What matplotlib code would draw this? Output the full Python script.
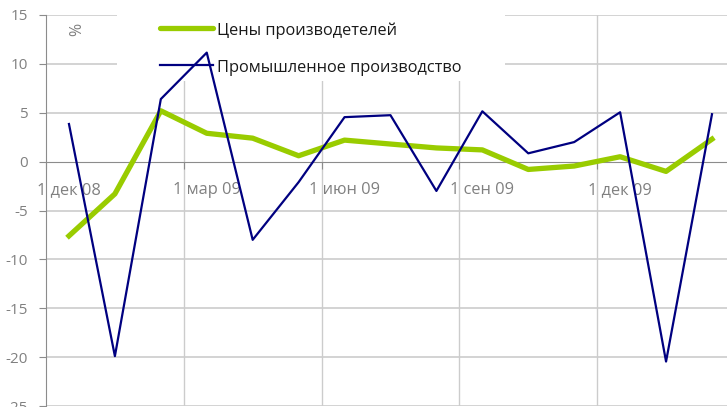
import matplotlib
matplotlib.use("Agg")
import matplotlib.pyplot as plt
from matplotlib.patches import Rectangle

plt.rcParams['font.family'] = ['Open Sans', 'DejaVu Sans']

months = ["дек 08", "янв 09", "фев 09", "мар 09", "апр 09", "май 09", "июн 09", "июл 09",
          "авг 09", "сен 09", "окт 09", "ноя 09", "дек 09", "янв 10", "фев 10"]
producer_prices = [-7.6, -3.3, 5.2, 2.9, 2.4, 0.6, 2.2, 1.8, 1.4, 1.2, -0.8, -0.45, 0.5, -1.0, 2.3]
industrial_prod = [3.85, -19.9, 6.4, 11.15, -8.0, -2.1, 4.55, 4.75, -3.0, 5.15, 0.85, 2.0, 5.05, -20.45, 4.85]
tick_labels = ["1 дек 08", "1 мар 09", "1 июн 09", "1 сен 09", "1 дек 09"]
label_idx = [0, 3, 6, 9, 12]
legend_labels = ["Цены производетелей", "Промышленное производство"]
y_ticks = [-25, -20, -15, -10, -5, 0, 5, 10, 15]

green = "#99cc00"
navy = "#000080"
grid_c = "#cccccc"
txt_c = "#808080"

fig = plt.figure(figsize=(7.27, 4.07), dpi=100)
ax = fig.add_axes([46/727, 1/407, 681/727, 391/407])
x = list(range(len(months)))

ax.set_xlim(-0.5, -0.5 + 681/45.93)
ax.set_ylim(-25, 15)

# horizontal gridlines
for v in y_ticks:
    if v != 0:
        ax.axhline(v, color=grid_c, lw=1.2, zorder=0.5)
# vertical gridlines at category boundaries
for b in [2.5, 5.5, 8.5, 11.5, 14.5]:
    ax.axvline(b, color=grid_c, lw=1.0, zorder=0.5)

# legend background covering grid
ax.add_patch(Rectangle((0.104, 0.831), 0.57, 0.25, transform=ax.transAxes,
                       facecolor="white", edgecolor="none", zorder=1, clip_on=False))

ax.plot(x, producer_prices, color=green, lw=3.8, zorder=3, solid_joinstyle='round')
ax.plot(x, industrial_prod, color=navy, lw=1.6, zorder=4)

# spines
for s in ["top", "right"]:
    ax.spines[s].set_visible(False)
ax.spines["left"].set_color("#8c8c8c")
ax.spines["bottom"].set_position(("data", 0))
ax.spines["bottom"].set_color("#8c8c8c")
ax.spines["bottom"].set_zorder(2)

ax.set_yticks(y_ticks)
ax.set_yticklabels([str(v) for v in y_ticks])
ax.tick_params(axis="y", colors="#8c8c8c", labelcolor=txt_c, labelsize=11, length=5, pad=8)

ax.set_xticks([-0.5, 2.5, 5.5, 8.5, 11.5])
ax.set_xticklabels([])
ax.tick_params(axis="x", which="major", colors="#8c8c8c", length=5, direction="out")
ax.set_xticks(label_idx, minor=True)
ax.set_xticklabels(tick_labels, minor=True)
ax.tick_params(axis="x", which="minor", length=0, pad=15, labelcolor=txt_c, labelsize=11.8)

# legend (manual)
ax.plot([0.1674, 0.2452], [0.9668, 0.9668], transform=ax.transAxes, color=green, lw=3.8,
        clip_on=False, zorder=3, solid_capstyle='round')
ax.text(0.2511, 0.9595, legend_labels[0], transform=ax.transAxes, va="center", ha="left",
        fontsize=11.8, color="#1a1a1a", zorder=2)
ax.plot([0.1674, 0.2452], [0.8721, 0.8721], transform=ax.transAxes, color=navy, lw=1.6,
        clip_on=False, zorder=3)
ax.text(0.2511, 0.8645, legend_labels[1], transform=ax.transAxes, va="center", ha="left",
        fontsize=11.8, color="#1a1a1a", zorder=2)

ax.text(0.0455, 0.962, "%", transform=ax.transAxes, rotation=90, va="center", ha="center",
        fontsize=11.5, color=txt_c)

fig.savefig("out.png", dpi=100)
